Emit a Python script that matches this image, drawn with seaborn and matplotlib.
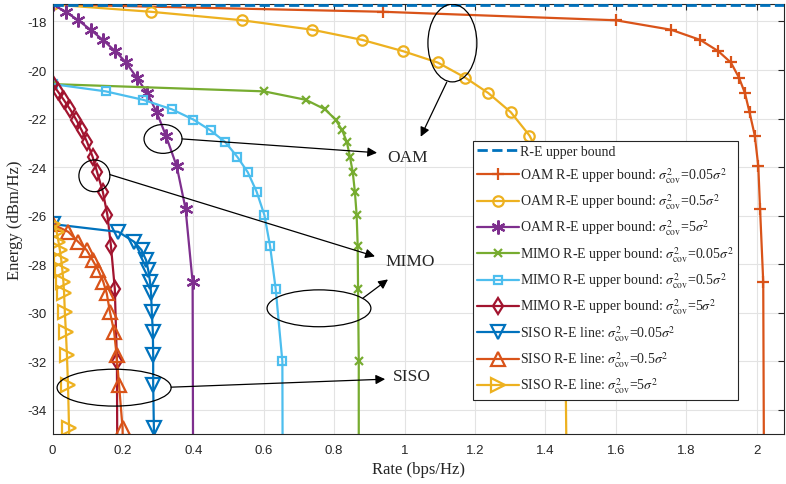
import numpy as np
import pandas as pd
import matplotlib
matplotlib.use("Agg")
import matplotlib.pyplot as plt
from matplotlib.patches import Ellipse
import seaborn as sns

# ---- data ----
# energy levels (dBm/Hz) shared by each family of curves
energy_oam = [-17.3, -17.6, -17.95, -18.34, -18.76, -19.22, -19.69, -20.31, -20.95,
              -21.74, -22.70, -23.97, -25.72, -28.73, -40.0]
energy_mimo = [-20.58, -20.88, -21.23, -21.62, -22.04, -22.49, -22.96, -23.58, -24.22,
               -25.02, -25.98, -27.25, -29.02, -32.01, -43.3]
energy_siso = [-26.35, -26.67, -27.08, -27.42, -27.84, -28.25, -28.72, -29.2, -29.96,
               -30.78, -31.74, -32.97, -34.75, -37.8]

rate_oam_005 = [0, 0.938, 1.60, 1.757, 1.84, 1.891, 1.927, 1.95, 1.967, 1.98, 1.995,
                2.005, 2.01, 2.019, 2.022]
rate_oam_05 = [0, 0.279, 0.538, 0.738, 0.88, 0.995, 1.094, 1.172, 1.238, 1.302, 1.355,
               1.40, 1.435, 1.455, 1.463]
rate_oam_5 = [0, 0.0375, 0.073, 0.108, 0.143, 0.178, 0.209, 0.239, 0.269, 0.296, 0.322,
              0.353, 0.378, 0.398, 0.40]

rate_mimo_005 = [0, 0.601, 0.72, 0.774, 0.804, 0.823, 0.836, 0.845, 0.853, 0.859, 0.864,
                 0.867, 0.868, 0.870, 0.870]
rate_mimo_05 = [0, 0.151, 0.258, 0.339, 0.40, 0.449, 0.49, 0.525, 0.555, 0.58, 0.602,
                0.618, 0.634, 0.653, 0.655]
rate_mimo_5 = [0, 0.015, 0.032, 0.050, 0.067, 0.083, 0.098, 0.114, 0.127, 0.143, 0.156,
               0.166, 0.177, 0.183, 0.186]

rate_siso_005 = [0, 0.187, 0.232, 0.253, 0.266, 0.272, 0.277, 0.28, 0.282, 0.285, 0.286,
                 0.286, 0.288, 0.289]
rate_siso_05 = [0, 0.045, 0.073, 0.097, 0.114, 0.13, 0.144, 0.154, 0.163, 0.175, 0.182,
                0.189, 0.199, 0.202]
rate_siso_5 = [0, 0.012, 0.017, 0.021, 0.025, 0.028, 0.031, 0.033, 0.035, 0.038, 0.041,
               0.044, 0.047, 0.050]

rate_ub = [0, 2.1]
energy_ub = [-17.32, -17.32]

sig = r"$\sigma^2_{\mathrm{cov}}$"
labels = [
    "R-E upper bound",
    "OAM R-E upper bound: " + sig + r"=0.05$\sigma^2$",
    "OAM R-E upper bound: " + sig + r"=0.5$\sigma^2$",
    "OAM R-E upper bound: " + sig + r"=5$\sigma^2$",
    "MIMO R-E upper bound: " + sig + r"=0.05$\sigma^2$",
    "MIMO R-E upper bound: " + sig + r"=0.5$\sigma^2$",
    "MIMO R-E upper bound: " + sig + r"=5$\sigma^2$",
    "SISO R-E line: " + sig + r"=0.05$\sigma^2$",
    "SISO R-E line: " + sig + r"=0.5$\sigma^2$",
    "SISO R-E line: " + sig + r"=5$\sigma^2$",
]

# ---- styling ----
sns.set_style("white")
plt.rcParams["mathtext.fontset"] = "stix"
plt.rcParams["axes.unicode_minus"] = False
plt.rcParams["font.family"] = ["Liberation Sans", "DejaVu Sans"]
serif = ["Liberation Serif", "DejaVu Serif"]

fig = plt.figure(figsize=(7.86, 4.85), dpi=100)
ax = fig.add_axes([52.5 / 786, 50 / 485, 731.5 / 786, 430 / 485])

series = [
    (rate_oam_005, energy_oam, "#D95319", "+", 9, {}),
    (rate_oam_05, energy_oam, "#EDB120", "o", 7.5, {"markerfacecolor": "none"}),
    (rate_oam_5, energy_oam, "#7E2F8E", (6, 2, 0), 10, {}),
    (rate_mimo_005, energy_mimo, "#77AC30", "x", 5.5, {}),
    (rate_mimo_05, energy_mimo, "#4DBEEE", "s", 6, {"markerfacecolor": "none"}),
    (rate_mimo_5, energy_mimo, "#A2142F", "d", 8, {"markerfacecolor": "none"}),
    (rate_siso_005, energy_siso, "#0072BD", "v", 10, {"markerfacecolor": "none"}),
    (rate_siso_05, energy_siso, "#D95319", "^", 10, {"markerfacecolor": "none"}),
    (rate_siso_5, energy_siso, "#EDB120", ">", 10, {"markerfacecolor": "none"}),
]

sns.lineplot(x=rate_ub, y=energy_ub, ax=ax, color="#0072BD", linestyle="--",
             linewidth=2, label=labels[0], zorder=5)
for (xs, ys, col, mk, ms, extra), lab in zip(series, labels[1:]):
    ys = ys[:len(xs)]
    sns.lineplot(x=xs, y=ys, ax=ax, sort=False, estimator=None, color=col,
                 marker=mk, markersize=ms, markeredgewidth=1.6,
                 markeredgecolor=col, linewidth=1.6, label=lab, **extra)

ax.set_xlim(0, 2.078)
ax.set_ylim(-35, -17.28)
ax.set_xticks(np.arange(0, 2.01, 0.2))
ax.set_xticklabels(["0", "0.2", "0.4", "0.6", "0.8", "1", "1.2", "1.4", "1.6", "1.8", "2"])
ax.set_yticks(np.arange(-34, -17, 2))
ax.grid(True, color="#E3E3E3", linewidth=0.8)
ax.set_axisbelow(True)
ax.tick_params(direction="in", length=4, width=0.8, top=True, right=True,
               labelsize=9.5, colors="#262626")
ax.tick_params(axis="x", pad=7)
ax.tick_params(axis="y", pad=4)
for s in ax.spines.values():
    s.set_color("#262626")
    s.set_linewidth(0.8)

ax.set_xlabel("Rate (bps/Hz)", family=serif, fontsize=12, labelpad=4)
ax.set_ylabel("Energy (dBm/Hz)", family=serif, fontsize=12, labelpad=3)

# ---- annotations ----
for (cx, cy, w, h) in [(0.314, -22.84, 0.108, 1.19), (1.136, -18.89, 0.139, 3.2),
                       (0.119, -24.36, 0.088, 1.31), (0.757, -29.82, 0.295, 1.52),
                       (0.175, -33.09, 0.324, 1.52)]:
    ax.add_patch(Ellipse((cx, cy), w, h, fill=False, edgecolor="k", linewidth=0.9, zorder=6))

arrows = [((0.368, -22.84), (0.922, -23.41)), ((1.12, -20.5), (1.046, -22.75)),
          ((0.163, -24.31), (0.916, -27.68)), ((0.882, -29.4), (0.953, -28.63)),
          ((0.337, -33.07), (0.945, -32.74))]
for start, end in arrows:
    ax.annotate("", xy=end, xytext=start,
                arrowprops=dict(arrowstyle="-|>", color="k", lw=0.9,
                                mutation_scale=14, shrinkA=0, shrinkB=0), zorder=6)

ax.text(0.95, -23.58, "OAM", family=serif, fontsize=12.5, va="center", ha="left")
ax.text(0.945, -27.89, "MIMO", family=serif, fontsize=12.5, va="center", ha="left")
ax.text(0.967, -32.61, "SISO", family=serif, fontsize=12.5, va="center", ha="left")

leg = ax.legend(loc="upper right", bbox_to_anchor=(0.937, 0.681), frameon=True,
                fancybox=False, edgecolor="#262626", framealpha=1,
                prop={"family": serif, "size": 10}, handlelength=3.0,
                handletextpad=0.1, labelspacing=0.5, borderpad=0.3,
                borderaxespad=0)
leg.get_frame().set_linewidth(0.8)
leg.set_zorder(10)

fig.savefig("out.png", dpi=100)
